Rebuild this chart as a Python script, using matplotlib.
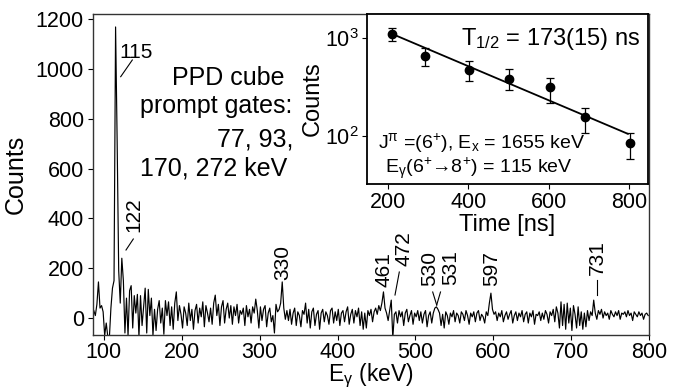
import numpy as np
import matplotlib
matplotlib.use("Agg")
import matplotlib.pyplot as plt
from matplotlib.lines import Line2D
from matplotlib.ticker import FixedLocator, NullLocator, LogFormatterSciNotation

plt.rcParams['font.family'] = ['Liberation Sans', 'DejaVu Sans']
plt.rcParams['mathtext.default'] = 'regular'

# ---- gamma-ray spectrum (2 keV bins, centres 87 ... 799 keV) ----
energy = np.arange(87, 800, 2)
counts = [
    30, 10, 55, 145, 40,
    50, 25, -70, -20, -75,
    -80, 40, 120, 150, 1168,
    712, 190, 60, 240, 150,
    -60, 80, -70, 110, 130,
    -40, 90, 20, 95, -75,
    90, -30, 45, 120, -60,
    115, 10, 80, -70, 35,
    -50, 35, 70, -20, 40,
    -65, 70, 10, 65, -30,
    45, -45, 60, 105, -10,
    50, 15, -40, 45, 20,
    -30, 60, -10, 35, -45,
    30, 55, -20, 40, 5,
    65, -35, 50, 20, -15,
    40, -25, 60, 92, 10,
    55, -30, 45, 70, -20,
    35, 60, 0, 50, -25,
    45, 10, 55, -20, 30,
    15, 40, -30, 50, 5,
    35, -20, 45, 20, 76,
    30, -40, 45, -10, 35,
    50, -35, 20, 40, -15,
    10, -60, 55, 25, 35,
    60, 145, 40, -5, 30,
    -10, 35, -25, 20, 40,
    -30, 25, 10, -35, 30,
    15, 60, -20, 35, -40,
    25, 40, -30, 15, 30,
    -45, 20, 35, -15, 25,
    10, -25, 30, 40, -20,
    25, -10, 35, -30, 20,
    30, -15, 25, 45, -25,
    15, 35, -20, 30, 5,
    40, -30, 25, -45, 20,
    -40, 30, 10, 35, -15,
    25, 40, 15, 50, 30,
    60, 105, 40, 20, -10,
    30, 72, -80, 15, 25,
    -20, 30, 5, 25, -30,
    20, 35, -15, 10, 30,
    -25, 20, 5, 30, -10,
    25, -20, 15, 30, -35,
    10, 25, -20, 20, 40,
    45, 35, 20, -30, 15,
    -40, 25, 10, -25, 20,
    5, 30, -15, 20, 10,
    -20, 25, 15, -10, 30,
    10, -25, 20, 5, 25,
    -15, 20, 30, -10, 15,
    5, -20, 25, 10, 60,
    100, 35, 15, 25, -10,
    20, 5, 30, -15, 10,
    25, -5, 15, 30, -20,
    10, 25, -10, 20, 5,
    30, -15, 15, 25, -20,
    20, 5, 30, -25, 15,
    10, 25, -10, 20, -5,
    30, 15, -20, 25, 10,
    35, -15, 45, 20, -40,
    65, -30, 55, -45, 60,
    -20, 40, -50, 50, 15,
    -40, 45, -30, 25, -45,
    20, -35, 30, -10, 25,
    10, 72, 20, -5, 30,
    15, 35, 0, 25, 10,
    20, -5, 30, 15, 5,
    25, 10, 30, -5, 20,
    15, 25, 5, 30, 10,
    20, -10, 25, 15, 5,
    25, 10, 20, -5, 15,
    20, 10,
]
spec_xticks = [100, 200, 300, 400, 500, 600, 700, 800]
spec_yticks = [0, 200, 400, 600, 800, 1000, 1200]

# ---- decay curve of the 115 keV line ----
time_ns = [210, 292, 402, 500, 603, 691, 802]
decay_counts = [1098, 651, 468, 381, 312, 156, 84]
err_low = [168, 133, 104, 89, 98, 50, 26]
err_high = [172, 129, 110, 95, 79, 37, 23]
half_life = 173.0
fit_start, fit_end = 209, 797
fit_amp = 1098
inset_xticks = [200, 400, 600, 800]

W, H = 683, 390


def fpos(x, y):
    """pixel position (from top-left) -> figure fraction"""
    return x / W, 1 - y / H


fig = plt.figure(figsize=(W / 100, H / 100), dpi=100)

# main spectrum
ax = fig.add_axes([93 / W, 1 - 335 / H, (649 - 93) / W, (335 - 14) / H])
ax.plot(energy, counts, color='k', lw=0.85)
ax.set_xlim(86, 800)
ax.set_ylim(-68, 1220)
ax.set_xticks(spec_xticks)
ax.set_yticks(spec_yticks)
ax.tick_params(direction='out', length=3.5, width=0.8, labelsize=15.5, pad=3)
ax.tick_params(axis='x', pad=1.5)
for s in ax.spines.values():
    s.set_linewidth(1.0)
    s.set_color('#333333')
ax.set_ylabel('Counts', fontsize=18, labelpad=6)
fig.text(*fpos(371, 381), r'E$_\gamma$ (keV)', ha='center', va='baseline', fontsize=16.5)

# text block
for txt, x, y in [('PPD cube', 284, 85), ('prompt gates:', 292, 113),
                  ('77, 93,', 293, 147), ('170, 272 keV', 287, 176)]:
    fx, fy = fpos(x, y)
    fig.text(fx, fy, txt, ha='right', va='baseline', fontsize=18)

# peak labels
fig.text(*fpos(119, 52), '115', ha='left', va='center', fontsize=15)
for lab, x, y in [('122', 134, 215), ('330', 283, 262), ('461', 384, 270),
                  ('472', 404, 249), ('530', 430, 268), ('531', 451, 268),
                  ('597', 492, 269), ('731', 597, 258)]:
    fig.text(*fpos(x, y), lab, rotation=90, ha='center', va='center', fontsize=15)

# leader lines
leaders = [((132.3, 60), (120.7, 76.7)),
           ((133.3, 239), (126, 250)),
           ((399.3, 272), (395, 295)),
           ((432.7, 292), (436.7, 305)),
           ((440.5, 292), (436.7, 305)),
           ((597, 280), (597, 295))]
for (x0, y0), (x1, y1) in leaders:
    a, b = fpos(x0, y0)
    c, d = fpos(x1, y1)
    fig.add_artist(Line2D([a, c], [b, d], transform=fig.transFigure,
                          color='k', lw=0.8))

# inset: decay curve
ins = fig.add_axes([366.7 / W, 1 - 184 / H, (648 - 366.7) / W, (184 - 14) / H])
ins.set_facecolor('white')
ins.set_yscale('log')
ins.errorbar(time_ns, decay_counts, yerr=[err_low, err_high], fmt='o', color='k',
             ms=6, capsize=3, elinewidth=0.9, capthick=0.9)
t_fit = np.linspace(fit_start, fit_end, 50)
ins.plot(t_fit, fit_amp * 2 ** (-(t_fit - fit_start) / half_life), color='k', lw=1.3)
ins.set_xlim(147, 847)
ins.set_ylim(32, 1745)
ins.set_xticks(inset_xticks)
ins.yaxis.set_major_locator(FixedLocator([100, 1000]))
ins.yaxis.set_major_formatter(LogFormatterSciNotation())
ins.yaxis.set_minor_locator(NullLocator())
ins.tick_params(direction='out', length=3.5, width=0.8, labelsize=15.5, pad=2)
for s in ins.spines.values():
    s.set_linewidth(1.3)
    s.set_color('k')
ins.set_ylabel('Counts', fontsize=17, labelpad=1)
ins.set_xlabel('Time [ns]', fontsize=17, labelpad=1)
ins.text(0.972, 0.853, r'T$_{1/2}$ = 173(15) ns', transform=ins.transAxes,
         ha='right', va='center', fontsize=17)
ins.text(0.04, 0.24, r'J$^{π}$ =(6$^{+}$), E$_{x}$ = 1655 keV',
         transform=ins.transAxes, ha='left', va='center', fontsize=14)
ins.text(0.065, 0.095, r'E$_{\gamma}$(6$^{+}$→8$^{+}$) = 115 keV',
         transform=ins.transAxes, ha='left', va='center', fontsize=14)

fig.savefig('out.png', dpi=100)
